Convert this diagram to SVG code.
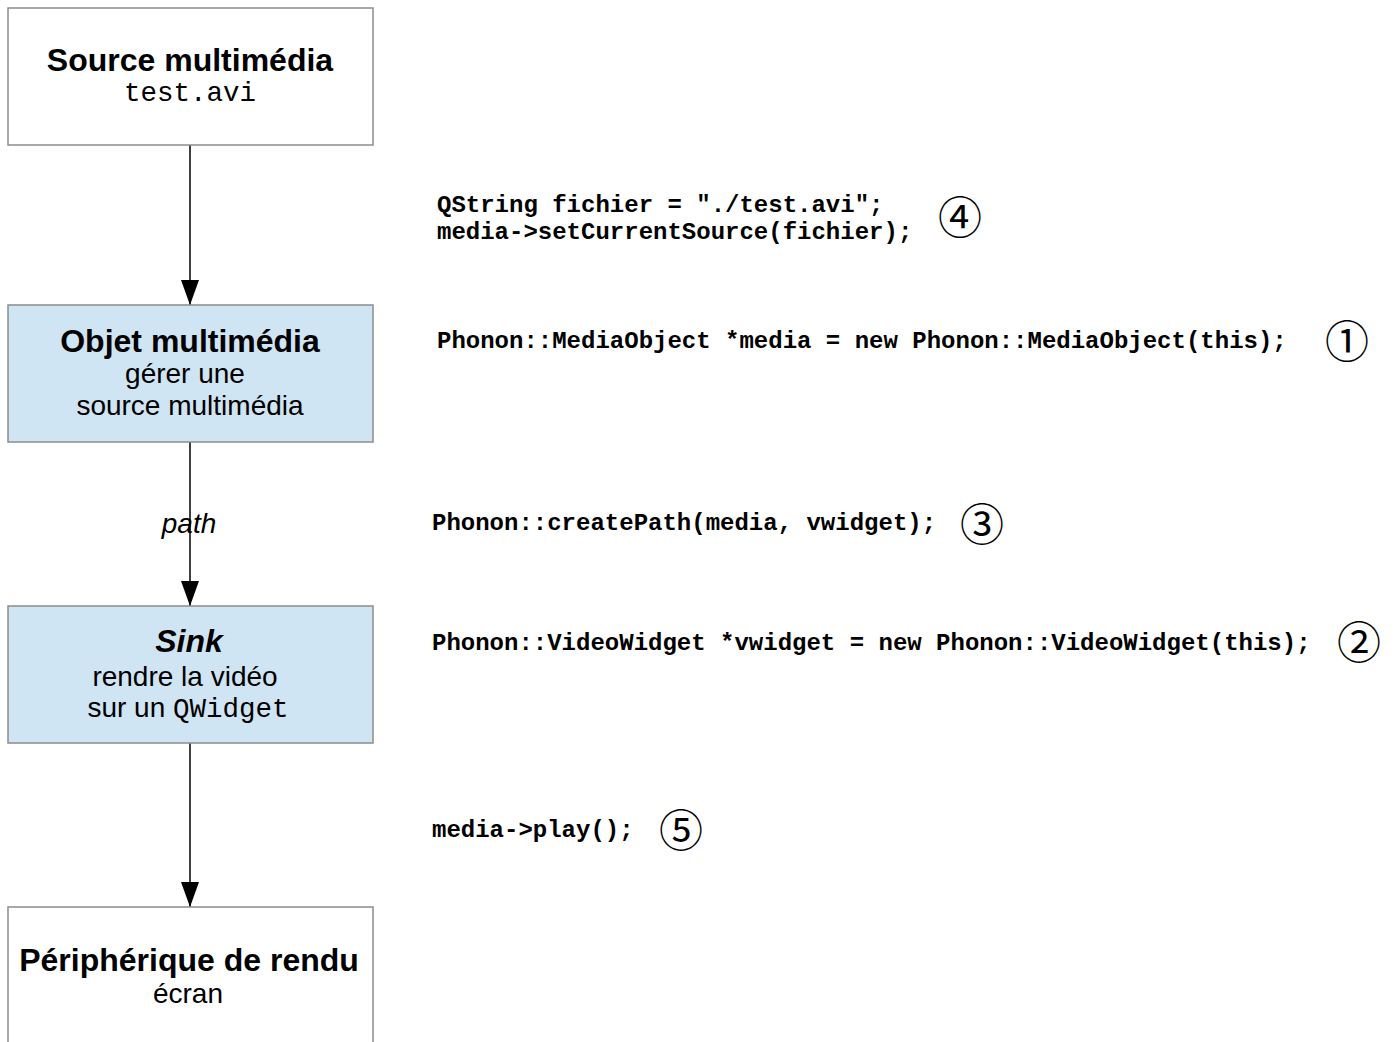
<svg xmlns="http://www.w3.org/2000/svg" width="1395" height="1042" viewBox="0 0 1395 1042">
  <style>
    .box { stroke: #8c8c8c; stroke-width: 1.5; }
    .plain { fill: #ffffff; }
    .blue { fill: #cfe5f3; }
    .title { font-family: "Liberation Sans", Arial, sans-serif; font-weight: bold; font-size: 32px; fill: #000; text-anchor: middle; }
    .sub { font-family: "Liberation Sans", Arial, sans-serif; font-size: 28px; fill: #000; text-anchor: middle; }
    .mono { font-family: "Liberation Mono", "Courier New", monospace; }
    .code { font-family: "Liberation Mono", "Courier New", monospace; font-weight: bold; font-size: 24px; fill: #000; }
    .num { font-family: "Noto Sans CJK JP", "DejaVu Sans", sans-serif; font-size: 44px; fill: #000; text-anchor: middle; }
    .edge { stroke: #000; stroke-width: 1.5; fill: none; }
  </style>
  <defs>
    <marker id="arrowDown" markerUnits="userSpaceOnUse" markerWidth="20" markerHeight="26" refX="9" refY="25" orient="0">
      <path d="M0,0 L18,0 L9,25 Z" fill="#000"/>
    </marker>
  </defs>
  <rect width="1395" height="1042" fill="#ffffff"/>

  <!-- connectors -->
  <g id="connectors">
    <line class="edge" x1="190" y1="145" x2="190" y2="305" marker-end="url(#arrowDown)"/>
    <line class="edge" x1="190" y1="442" x2="190" y2="606" marker-end="url(#arrowDown)"/>
    <line class="edge" x1="190" y1="743" x2="190" y2="907" marker-end="url(#arrowDown)"/>
    <text x="189" y="533" style="font-family: 'Liberation Sans', Arial, sans-serif; font-style: italic; font-size: 28px; text-anchor: middle;">path</text>
  </g>

  <!-- nodes -->
  <g id="source">
    <rect class="box plain" x="8" y="8" width="365" height="137"/>
    <text class="title" x="190" y="71">Source multimédia</text>
    <text class="sub mono" x="190" y="101" style="font-size:27.5px">test.avi</text>
  </g>

  <g id="media-object">
    <rect class="box blue" x="8" y="305" width="365" height="137"/>
    <text class="title" x="190" y="352">Objet multimédia</text>
    <text class="sub" x="185" y="383">gérer une</text>
    <text class="sub" x="190" y="415">source multimédia</text>
  </g>

  <g id="sink">
    <rect class="box blue" x="8" y="606" width="365" height="137"/>
    <text class="title" x="189" y="652" style="font-style:italic">Sink</text>
    <text class="sub" x="185" y="686">rendre la vidéo</text>
    <text class="sub" x="188" y="717">sur un <tspan class="mono" style="font-size:27.5px">QWidget</tspan></text>
  </g>

  <g id="output-device">
    <rect class="box plain" x="8" y="907" width="365" height="140"/>
    <text class="title" x="189" y="971">Périphérique de rendu</text>
    <text class="sub" x="188" y="1003">écran</text>
  </g>

  <!-- code annotations -->
  <g id="step-4">
    <text class="code" x="437" y="212">QString fichier = "./test.avi";</text>
    <text class="code" x="437" y="239">media-&gt;setCurrentSource(fichier);</text>
    <text class="num" x="960" y="234">④</text>
  </g>
  <g id="step-1">
    <text class="code" x="437" y="348">Phonon::MediaObject *media = new Phonon::MediaObject(this);</text>
    <text class="num" x="1347" y="358">①</text>
  </g>
  <g id="step-3">
    <text class="code" x="432" y="530">Phonon::createPath(media, vwidget);</text>
    <text class="num" x="982" y="541">③</text>
  </g>
  <g id="step-2">
    <text class="code" x="432" y="650">Phonon::VideoWidget *vwidget = new Phonon::VideoWidget(this);</text>
    <text class="num" x="1359" y="659">②</text>
  </g>
  <g id="step-5">
    <text class="code" x="432" y="837">media-&gt;play();</text>
    <text class="num" x="681" y="847">⑤</text>
  </g>
</svg>
